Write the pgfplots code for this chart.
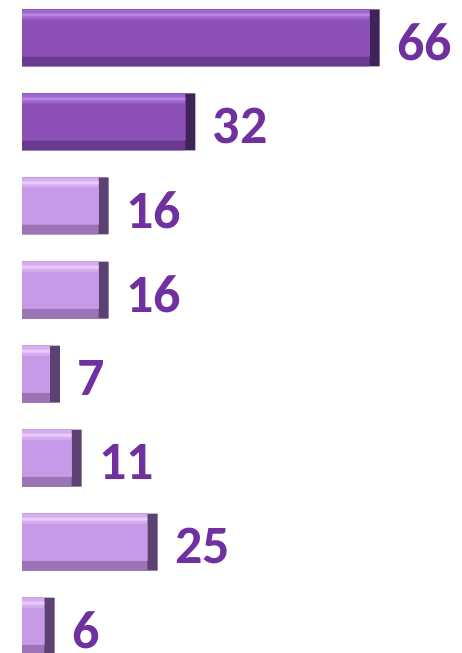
\documentclass[border=0pt]{standalone}
\usepackage{pgfplots}
\usepackage{pgfplotstable}
\pgfplotsset{compat=1.18}
\usepackage{fontspec}
\setmainfont{Carlito}
\definecolor{lbl}{HTML}{7030A0}
\definecolor{dkmain}{HTML}{8C50B6}
\definecolor{dktop}{HTML}{A066CE}
\definecolor{dkhi}{HTML}{B884E4}
\definecolor{dkbot}{HTML}{6A3A90}
\definecolor{dkright}{HTML}{3E2258}
\definecolor{ltmain}{HTML}{C69AE6}
\definecolor{lttop}{HTML}{D6ADF2}
\definecolor{lthi}{HTML}{E8CCFC}
\definecolor{ltbot}{HTML}{9A74B4}
\definecolor{ltright}{HTML}{5C4272}
% y, value, inner length (value minus bevel)
\pgfplotstableread{
y v vin
0 66 64.15
1 32 30.15
}\dark
\pgfplotstableread{
y v vin
2 16 14.15
3 16 14.15
4 7 5.15
5 11 9.15
6 25 23.15
7 6 4.15
}\light
\begin{document}
\begin{tikzpicture}
\begin{axis}[
  scale only axis, width=462pt, height=653pt,
  xbar, bar shift=0pt,
  xmin=-4.06, xmax=81.18,
  y dir=reverse, ymin=-0.452, ymax=7.321,
  ticks=none, axis line style={draw=none},
  /pgf/number format/assume math mode=true,
  every node near coord/.append style={anchor=west, xshift=14pt, yshift=-4pt,
     text=lbl, font=\bfseries\fontsize{54}{54}\selectfont},
]
% dark bars
\addplot[draw=none, fill=dkright, bar width=57pt, nodes near coords] table[x=v,y=y]{\dark};
\addplot[draw=none, fill=dkbot, bar width=57pt] table[x=vin,y=y]{\dark};
\addplot[draw=none, fill=dktop, bar width=47pt, bar shift=5pt] table[x=vin,y=y]{\dark};
\addplot[draw=none, fill=dkhi, bar width=3pt, bar shift=23pt] table[x=vin,y=y]{\dark};
\addplot[draw=none, fill=dkmain, bar width=37pt] table[x=vin,y=y]{\dark};
% light bars
\addplot[draw=none, fill=ltright, bar width=57pt, nodes near coords] table[x=v,y=y]{\light};
\addplot[draw=none, fill=ltbot, bar width=57pt] table[x=vin,y=y]{\light};
\addplot[draw=none, fill=lttop, bar width=47pt, bar shift=5pt] table[x=vin,y=y]{\light};
\addplot[draw=none, fill=lthi, bar width=3pt, bar shift=23pt] table[x=vin,y=y]{\light};
\addplot[draw=none, fill=ltmain, bar width=37pt] table[x=vin,y=y]{\light};
\end{axis}
\end{tikzpicture}
\end{document}
